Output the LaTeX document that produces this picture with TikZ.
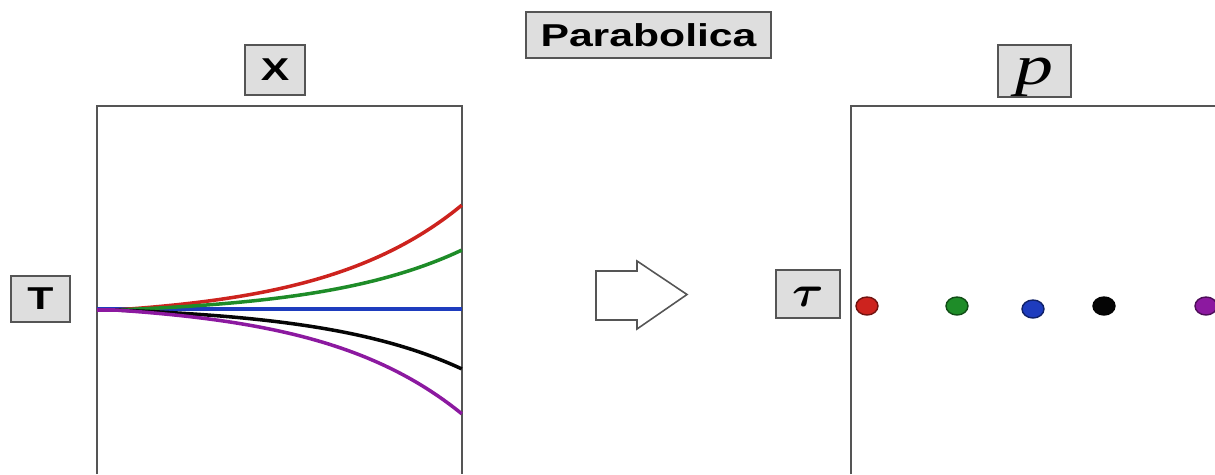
\documentclass[tikz,border=0pt]{standalone}
\usepackage{amsmath}
\usepackage{fontspec}
\setsansfont{Liberation Sans}
\newfontfamily\serifit{Liberation Serif}
\usepackage{graphicx}
\usepackage{tikz}
\usetikzlibrary{calc}
\definecolor{framegray}{RGB}{85, 85, 85}
\definecolor{boxgray}{RGB}{222, 222, 222}
\definecolor{cred}{RGB}{205, 35, 30}
\definecolor{cgreen}{RGB}{30, 140, 40}
\definecolor{cblue}{RGB}{30, 60, 190}
\definecolor{cblack}{RGB}{5, 5, 5}
\definecolor{cpurple}{RGB}{140, 25, 160}
\newcommand{\wide}[1]{\scalebox{1.35}[1]{#1}}

\begin{document}
\begin{tikzpicture}[
    x=0.02cm, y=-0.02cm,
    lbl/.style={rectangle, draw=framegray, fill=boxgray, line width=1pt,
                inner sep=0pt, font=\fontsize{18}{21}\selectfont\sffamily\bfseries},
    frame/.style={draw=framegray, line width=1.3pt},
    curve/.style={line width=2pt},
    dot/.style={line width=0.8pt}
]
\useasboundingbox (0,0) rectangle (1215,474);

%% Labels
\node[lbl, minimum width=4.9cm, minimum height=0.92cm] (title) at (648.5,35) {\wide{Parabolica}};
\node[lbl, minimum width=1.2cm, minimum height=1.0cm] (xlab) at (275,70) {\wide{X}};
\node[lbl, minimum width=1.18cm, minimum height=0.92cm] (tlab) at (40.5,299) {\wide{T}};
\node[lbl, minimum width=1.46cm, minimum height=1.04cm, font=\fontsize{32}{34}\selectfont]
      (plab) at (1034.5,71) {\smash{\raisebox{-0.27cm}{\wide{\serifit\itshape p}}}};
\node[lbl, minimum width=1.28cm, minimum height=0.96cm, font=\fontsize{38}{40}\selectfont]
      (taulab) at (808,294) {\smash{\raisebox{-0.25cm}{\scalebox{1.1}[1]{$\boldsymbol{\tau}$}}}};

%% Frames
\draw[frame] (97,474) -- (97,106) -- (462,106) -- (462,474);
\draw[frame] (851,474) -- (851,106) -- (1215,106);

%% Trajectories
\draw[curve, cblue] (97,309) -- (462,309);
\foreach \col/\amp in {cred/-105, cgreen/-60, cblack/59, cpurple/104}
  \draw[curve, \col] (97,310) -- plot[domain=0:1, samples=60, smooth]
        ({115+347*\x}, {310+\amp*(exp(2.5*\x)-1)/(exp(2.5)-1)});

%% Block arrow
\draw[frame, line width=0.9pt, fill=white]
  (596,271) -- (637,271) -- (637,261) -- (687,294.5) -- (637,329) -- (637,320) -- (596,320) -- cycle;

%% Points
\foreach \col/\px/\py in {cred/867/306, cgreen/957/306, cblue/1033/309, cblack/1104/306, cpurple/1206/306}
  \filldraw[dot, fill=\col, draw=\col!55!black] (\px,\py) ellipse [x radius=0.22cm, y radius=0.18cm];

\end{tikzpicture}
\end{document}
